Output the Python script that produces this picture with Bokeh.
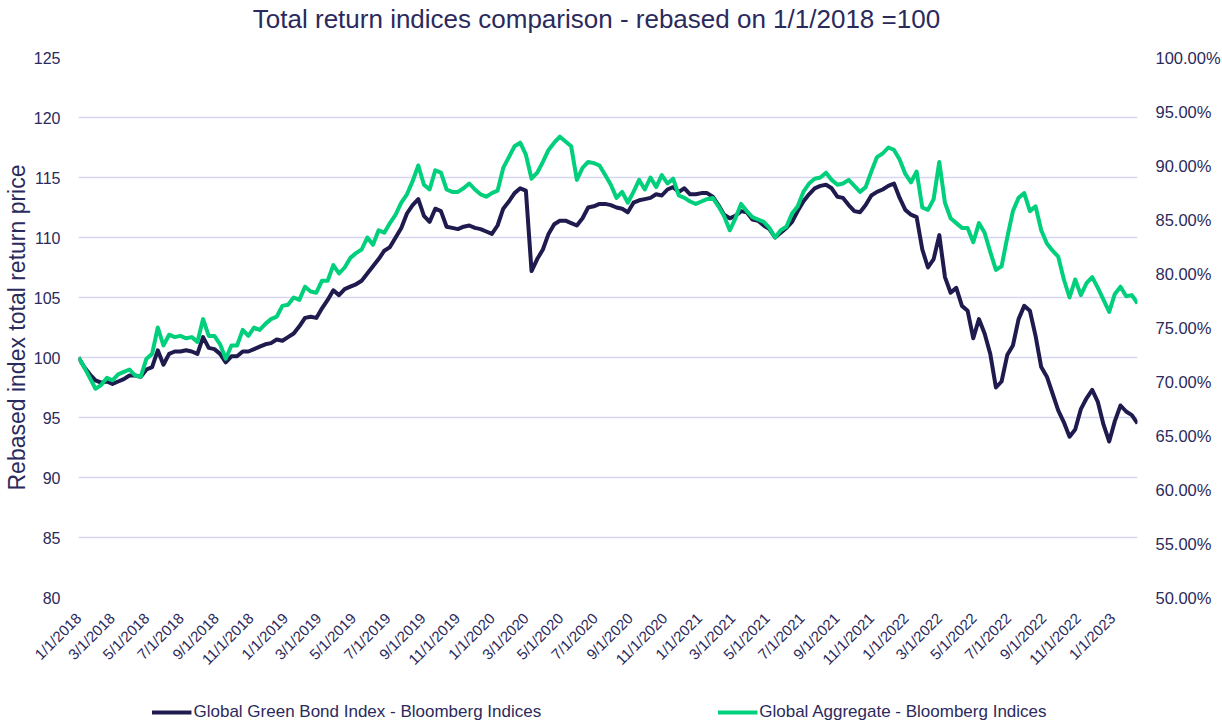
import numpy as np
import pandas as pd
from bokeh.plotting import figure
from bokeh.layouts import column
from bokeh.models import (LinearAxis, Range1d, FixedTicker, NumeralTickFormatter,
                          Legend, LegendItem, ColumnDataSource, Label)
from bokeh.embed import file_html
from bokeh.resources import INLINE

TITLE = "Total return indices comparison - rebased on 1/1/2018 =100"
Y_LABEL = "Rebased index total return price"
NAME_GREEN = "Global Green Bond Index - Bloomberg Indices"
NAME_AGG = "Global Aggregate - Bloomberg Indices"

start_date = "2018-01-01"
step = "10D"

green_bond = [
    100.0, 99.2, 98.6, 98.1, 97.9, 98.0, 97.8, 98.0, 98.2, 98.5,
    98.5, 98.4, 99.0, 99.2, 100.6, 99.4, 100.3, 100.5, 100.5, 100.6,
    100.5, 100.3, 101.7, 100.8, 100.7, 100.3, 99.6, 100.1, 100.1, 100.5,
    100.5, 100.7, 100.9, 101.1, 101.2, 101.5, 101.4, 101.7, 102.0, 102.6,
    103.3, 103.4, 103.3, 104.1, 104.8, 105.6, 105.2, 105.7, 105.9, 106.1,
    106.4, 107.0, 107.6, 108.2, 108.9, 109.2, 110.0, 110.8, 112.0, 112.7,
    113.2, 111.8, 111.3, 112.4, 112.2, 110.9, 110.8, 110.7, 110.9, 111.0,
    110.8, 110.7, 110.5, 110.3, 111.0, 112.4, 113.0, 113.7, 114.1, 113.9,
    107.2, 108.2, 109.0, 110.3, 111.1, 111.4, 111.4, 111.2, 111.0, 111.6,
    112.5, 112.6, 112.8, 112.8, 112.7, 112.5, 112.4, 112.1, 112.9, 113.1,
    113.2, 113.3, 113.6, 113.5, 114.0, 114.2, 113.8, 114.1, 113.6, 113.6,
    113.7, 113.7, 113.4, 112.7, 111.9, 111.6, 111.8, 112.2, 112.1, 111.5,
    111.4, 111.0, 110.7, 110.0, 110.4, 110.8, 111.3, 112.2, 113.0, 113.6,
    114.1, 114.3, 114.4, 114.1, 113.4, 113.3, 112.7, 112.2, 112.1, 112.7,
    113.5, 113.8, 114.0, 114.3, 114.5, 113.3, 112.3, 111.9, 111.7, 109.0,
    107.5, 108.2, 110.2, 106.7, 105.4, 105.8, 104.3, 103.9, 101.6, 103.2,
    102.0, 100.3, 97.5, 98.0, 100.2, 101.0, 103.2, 104.3, 103.9, 101.8,
    99.2, 98.4, 97.0, 95.6, 94.6, 93.4, 94.0, 95.7, 96.6, 97.3,
    96.3, 94.4, 93.0, 94.7, 96.0, 95.5, 95.2, 94.5,
]

global_agg = [
    100.0, 99.2, 98.3, 97.4, 97.7, 98.3, 98.1, 98.6, 98.8, 99.0,
    98.5, 98.4, 99.9, 100.3, 102.5, 101.0, 101.9, 101.7, 101.8, 101.6,
    101.7, 101.3, 103.2, 101.8, 101.8, 101.1, 99.9, 101.0, 101.0, 102.3,
    101.8, 102.5, 102.3, 102.8, 103.2, 103.4, 104.3, 104.4, 105.0, 104.8,
    105.9, 105.5, 105.4, 106.4, 106.4, 107.7, 107.0, 107.5, 108.3, 108.7,
    109.0, 110.0, 109.4, 110.6, 110.4, 111.2, 111.9, 112.9, 113.6, 114.7,
    116.0, 114.4, 114.0, 115.6, 115.4, 114.0, 113.8, 113.8, 114.1, 114.5,
    114.0, 113.6, 113.4, 113.7, 113.9, 115.8, 116.7, 117.6, 117.9, 116.9,
    114.9, 115.4, 116.3, 117.3, 117.9, 118.4, 118.0, 117.6, 114.8, 115.8,
    116.3, 116.2, 116.0, 115.2, 114.4, 113.3, 113.8, 112.9, 113.8, 114.8,
    114.0, 115.0, 114.2, 115.2, 114.5, 114.9, 113.5, 113.3, 113.0, 112.8,
    113.0, 113.2, 113.3, 112.6, 111.8, 110.6, 111.6, 112.8, 112.2, 111.7,
    111.5, 111.3, 110.8, 110.0, 110.6, 110.9, 112.0, 112.6, 113.8, 114.5,
    114.9, 115.0, 115.4, 114.8, 114.4, 114.5, 114.8, 114.3, 113.8, 114.2,
    115.5, 116.7, 117.0, 117.5, 117.3, 116.5, 115.3, 114.6, 115.5, 112.5,
    112.3, 113.2, 116.3, 112.9, 111.6, 111.2, 110.8, 110.8, 109.6, 111.2,
    110.4, 108.8, 107.3, 107.6, 110.0, 112.2, 113.3, 113.7, 112.2, 112.6,
    110.6, 109.5, 108.9, 108.4, 106.5, 105.0, 106.5, 105.2, 106.2, 106.7,
    105.8, 104.8, 103.8, 105.3, 105.9, 105.1, 105.2, 104.5,
]

x_tick_labels = [
    "1/1/2018", "3/1/2018", "5/1/2018", "7/1/2018", "9/1/2018", "11/1/2018",
    "1/1/2019", "3/1/2019", "5/1/2019", "7/1/2019", "9/1/2019", "11/1/2019",
    "1/1/2020", "3/1/2020", "5/1/2020", "7/1/2020", "9/1/2020", "11/1/2020",
    "1/1/2021", "3/1/2021", "5/1/2021", "7/1/2021", "9/1/2021", "11/1/2021",
    "1/1/2022", "3/1/2022", "5/1/2022", "7/1/2022", "9/1/2022", "11/1/2022",
    "1/1/2023",
]
left_ticks = [80, 85, 90, 95, 100, 105, 110, 115, 120, 125]
right_ticks = [0.50, 0.55, 0.60, 0.65, 0.70, 0.75, 0.80, 0.85, 0.90, 0.95, 1.00]

NAVY = "#1f1b4e"
GREEN = "#00cf7c"
TEXT = "#2b2a5c"
GRID = "#d8d5f3"
FONT = "Liberation Sans"
W = 1206

dates = pd.date_range(start_date, periods=len(green_bond), freq=step)
src = ColumnDataSource(dict(date=dates, g=green_bond, a=global_agg))

# ---- title strip ----
TITLE_H = 36
p0 = figure(width=W, height=TITLE_H, output_backend="svg", toolbar_location=None,
            x_range=Range1d(0, W), y_range=Range1d(0, TITLE_H),
            x_axis_location=None, y_axis_location=None, min_border=0)
p0.outline_line_color = None
p0.grid.grid_line_color = None
p0.add_layout(Label(x=599.5, y=TITLE_H / 2, text=TITLE, text_align="center",
                    text_baseline="middle", text_font=FONT, text_font_size="26px",
                    text_color=TEXT))

# ---- main chart ----
p = figure(frame_width=1059, frame_height=540, x_axis_type="datetime",
           output_backend="svg", toolbar_location=None,
           x_range=Range1d(dates[0], dates[-1]),
           y_range=Range1d(80, 125),
           min_border_left=70, min_border_right=77,
           min_border_top=57 - TITLE_H, min_border_bottom=102)
p.outline_line_color = None
p.background_fill_color = "white"
p.border_fill_color = "white"

p.extra_y_ranges = {"pct": Range1d(0.5, 1.0)}
right = LinearAxis(y_range_name="pct")
p.add_layout(right, "right")

tick_ms = [pd.to_datetime(s, format="%m/%d/%Y").value // 10**6 for s in x_tick_labels]
xa = p.xaxis[0]
xa.ticker = FixedTicker(ticks=tick_ms)
xa.major_label_overrides = {t: s for t, s in zip(tick_ms, x_tick_labels)}
xa.major_label_orientation = np.pi / 4
xa.major_label_standoff = 12

ya = p.yaxis[0]
ya.ticker = FixedTicker(ticks=left_ticks)
ya.axis_label = Y_LABEL
ya.axis_label_standoff = 1
ya.major_label_standoff = 12

right.ticker = FixedTicker(ticks=right_ticks)
right.formatter = NumeralTickFormatter(format="0.00%")
right.major_label_standoff = 12

for ax in [xa, ya, right]:
    ax.axis_line_color = None
    ax.major_tick_line_color = None
    ax.minor_tick_line_color = None
    ax.major_label_text_font = FONT
    ax.major_label_text_color = TEXT
    ax.axis_label_text_font = FONT
    ax.axis_label_text_color = TEXT
    ax.axis_label_text_font_style = "normal"
ya.axis_label_text_font_size = "23px"
xa.major_label_text_font_size = "15px"
ya.major_label_text_font_size = "16px"
right.major_label_text_font_size = "16.5px"

p.xgrid.grid_line_color = None
p.ygrid.grid_line_color = GRID
p.ygrid.grid_line_width = 1.5
p.ygrid.ticker = FixedTicker(ticks=left_ticks)

p.line("date", "g", source=src, line_color=NAVY, line_width=4, line_join="round")
p.line("date", "a", source=src, line_color=GREEN, line_width=4, line_join="round")

# ---- legend strip ----
LEG_H = 26
p2 = figure(width=W, height=LEG_H, output_backend="svg", toolbar_location=None,
            x_range=Range1d(dates[0], dates[-1]), y_range=Range1d(0, 1),
            x_axis_location=None, y_axis_location=None, min_border=0)
p2.outline_line_color = None
p2.grid.grid_line_color = None
lg = p2.line("date", "g", source=src, line_color=NAVY, line_width=4)
la = p2.line("date", "a", source=src, line_color=GREEN, line_width=4)
legend = Legend(items=[LegendItem(label=NAME_GREEN, renderers=[lg]),
                       LegendItem(label=NAME_AGG, renderers=[la])],
                orientation="horizontal", location="center",
                spacing=176, glyph_width=40, glyph_height=16, label_height=16,
                label_standoff=2,
                label_text_font=FONT, label_text_font_size="17px",
                label_text_color=TEXT, border_line_color=None,
                background_fill_alpha=0, margin=0, padding=0)
p2.add_layout(legend, "center")

layout = column(p0, p, p2, spacing=0)
open("out.html", "w").write(file_html(layout, INLINE))
